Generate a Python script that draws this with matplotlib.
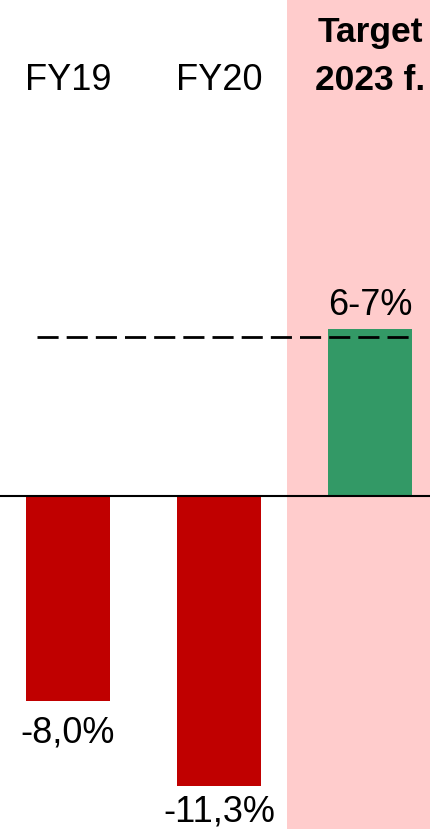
import matplotlib
matplotlib.use("Agg")
import matplotlib.pyplot as plt

categories = ["FY19", "FY20", "Target\n2023 f."]
values = [-8.0, -11.3, 6.5]
value_labels = ["-8,0%", "-11,3%", "6-7%"]
target_line = 6.2
bar_colors = ["#C00000", "#C00000", "#339966"]

plt.rcParams['font.family'] = ['Liberation Sans', 'DejaVu Sans']

fig = plt.figure(figsize=(4.31, 8.31), dpi=100)
ax = fig.add_axes([0, 0, 1, 1])
xmin, xmax = -0.450, 2.404
ymin, ymax = -13.07, 19.32
ax.set_xlim(xmin, xmax)
ax.set_ylim(ymin, ymax)
ax.axis("off")

# highlighted target column
ax.axvspan(1.4506, xmax, ymin=(-13.0 - ymin) / (ymax - ymin), ymax=1,
           color="#FFCCCC", zorder=0, lw=0)

x = list(range(len(categories)))
width = 0.556
ax.bar(x, values, width=width, color=bar_colors, zorder=2)

# zero line
ax.axhline(0, color="black", lw=1.5, zorder=3)

# target dashed line
ax.plot([-0.205, 2 + width / 2], [target_line, target_line], color="black",
        lw=2.0, dashes=(7.6, 2.9), zorder=4)

# value labels (baseline positions)
label_base = {0: -9.63, 1: -12.70, 2: 7.04}
for xi, v, lab in zip(x, values, value_labels):
    ax.text(xi, label_base[xi], lab, ha="center", va="baseline",
            fontsize=26, zorder=5)

# category headers
for xi, c in zip(x, categories):
    if "\n" in c:
        l1, l2 = c.split("\n")
        ax.text(xi, 17.67, l1, ha="center", va="baseline", fontsize=25.5,
                fontweight="bold", zorder=5)
        ax.text(xi, 15.81, l2, ha="center", va="baseline", fontsize=25.5,
                fontweight="bold", zorder=5)
    else:
        ax.text(xi, 15.81, c, ha="center", va="baseline", fontsize=26, zorder=5)

fig.savefig("out.png", dpi=100)
